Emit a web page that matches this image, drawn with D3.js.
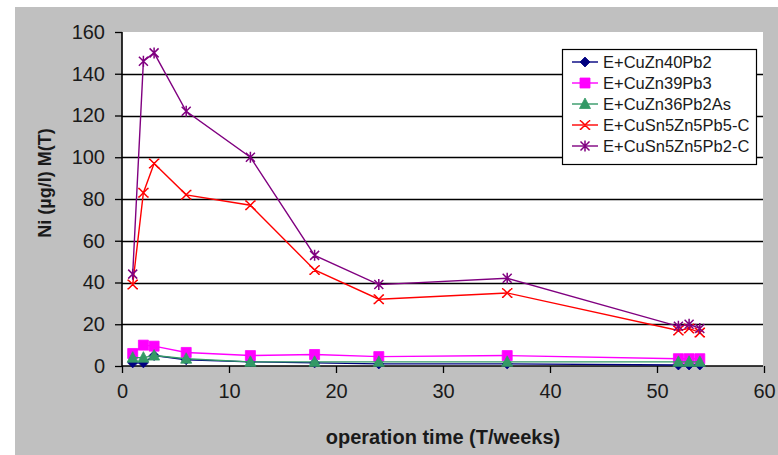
<!DOCTYPE html>
<html>
<head>
<meta charset="utf-8">
<script src="https://cdn.jsdelivr.net/npm/d3@7"></script>
<style>
  html, body { margin: 0; padding: 0; background: #fff; }
  svg { display: block; font-family: Arial, "Liberation Sans", sans-serif; }
</style>
</head>
<body>
<svg id="chart" width="778" height="455"></svg>
<script>
// Sampling times (weeks)
const weeks = [1, 2, 3, 6, 12, 18, 24, 36, 52, 53, 54];

// Ni release M(T) in µg/l per alloy
const cuZn40Pb2      = [1.5, 1.5, 5, 3, 2, 1.5, 1, 1, 0.5, 0.5, 0.5];
const cuZn39Pb3      = [6, 10, 9.5, 6.5, 5, 5.5, 4.5, 5, 3.5, 3.5, 3.5];
const cuZn36Pb2As    = [4, 4, 5, 3.5, 2, 2, 2, 2, 2, 2, 2];
const cuSn5Zn5Pb5C   = [39, 83, 97, 82, 77, 46, 32, 35, 17, 18, 16];
const cuSn5Zn5Pb2C   = [44, 146, 150, 122, 100, 53, 39, 42, 19, 20, 18];

const seriesNames = ["E+CuZn40Pb2", "E+CuZn39Pb3", "E+CuZn36Pb2As", "E+CuSn5Zn5Pb5-C", "E+CuSn5Zn5Pb2-C"];
const seriesValues = [cuZn40Pb2, cuZn39Pb3, cuZn36Pb2As, cuSn5Zn5Pb5C, cuSn5Zn5Pb2C];
const seriesColors = ["#000080", "#ff00ff", "#339966", "#ff0000", "#800080"];
const seriesMarkers = ["diamond", "square", "triangle", "x", "star"];

const xTicks = [0, 10, 20, 30, 40, 50, 60];
const yTicks = [0, 20, 40, 60, 80, 100, 120, 140, 160];

const svg = d3.select("#chart");

// chart area background
svg.append("rect").attr("x", 15).attr("y", 7).attr("width", 763).attr("height", 448)
  .attr("fill", "#c0c0c0");

const plot = { left: 122, right: 763, top: 32, bottom: 366 };

const x = d3.scaleLinear().domain([0, 60]).range([plot.left, 764]);
const y = d3.scaleLinear().domain([0, 160]).range([plot.bottom, plot.top]);

// plot area
svg.append("rect").attr("x", plot.left).attr("y", plot.top)
  .attr("width", plot.right - plot.left).attr("height", plot.bottom - plot.top)
  .attr("fill", "#fff");

// horizontal gridlines
svg.append("g").selectAll("line").data(yTicks.filter(v => v > 0 && v < 160)).join("line")
  .attr("x1", plot.left).attr("x2", plot.right)
  .attr("y1", d => Math.round(y(d)) + 0.5).attr("y2", d => Math.round(y(d)) + 0.5)
  .attr("stroke", "#000").attr("stroke-width", 1.6);

// axes
const yAxis = d3.axisLeft(y).tickValues(yTicks).tickSize(7).tickPadding(10).tickFormat(d3.format("d"));
const xAxis = d3.axisBottom(x).tickValues(xTicks).tickSize(7).tickPadding(11).tickFormat(d3.format("d"));

const gy = svg.append("g").attr("transform", `translate(${plot.left},0)`).call(yAxis);
const gx = svg.append("g").attr("transform", `translate(0,${plot.bottom})`).call(xAxis);
[gy, gx].forEach(g => {
  g.select(".domain").attr("stroke", "#000").attr("stroke-width", 1.6);
  g.selectAll(".tick line").attr("stroke", "#000").attr("stroke-width", 1.3);
  g.selectAll(".tick text").attr("fill", "#1a1a1a")
    .style("font-size", "20px").style("font-family", "Arial, 'Liberation Sans', sans-serif");
});
gy.select(".domain").attr("d", `M0,${plot.top}V${plot.bottom}`);
gx.select(".domain").attr("d", `M${plot.left},0H${plot.right}`);

// axis titles
svg.append("text")
  .attr("transform", `translate(51,183) rotate(-90)`)
  .attr("text-anchor", "middle")
  .style("font-size", "18px").style("font-weight", "bold").attr("fill", "#1a1a1a")
  .text("Ni (µg/l) M(T)");
svg.append("text")
  .attr("x", 443).attr("y", 444)
  .attr("text-anchor", "middle")
  .style("font-size", "20px").style("font-weight", "bold").attr("fill", "#1a1a1a")
  .text("operation time (T/weeks)");

// marker shapes
function markerPath(type) {
  switch (type) {
    case "diamond": return "M0,-5L5,0L0,5L-5,0Z";
    case "square": return "M-5,-5H5V5H-5Z";
    case "triangle": return "M0,-6L5.5,4.5L-5.5,4.5Z";
    case "x": return "M-4.5,-4.5L4.5,4.5M-4.5,4.5L4.5,-4.5M-4.5,-5V-3.5M4.5,-5V-3.5M-4.5,3.5V5M4.5,3.5V5";
    case "star": return "M-4.5,-4.5L4.5,4.5M-4.5,4.5L4.5,-4.5M0,-5.5V5.5";
  }
}
function drawMarker(g, type, color) {
  const filled = type === "diamond" || type === "square" || type === "triangle";
  g.append("path").attr("d", markerPath(type))
    .attr("fill", filled ? color : "none")
    .attr("stroke", color)
    .attr("stroke-width", filled ? 0.8 : 1.5);
}

const line = d3.line().x(d => x(d[0])).y(d => y(d[1]));

seriesValues.forEach((vals, i) => {
  const pts = weeks.map((w, j) => [w, vals[j]]);
  const g = svg.append("g");
  g.append("path").datum(pts).attr("d", line)
    .attr("fill", "none").attr("stroke", seriesColors[i]).attr("stroke-width", 1.4);
  g.selectAll("g.pt").data(pts).join("g").attr("class", "pt")
    .attr("transform", d => `translate(${x(d[0])},${y(d[1])})`)
    .each(function () { drawMarker(d3.select(this), seriesMarkers[i], seriesColors[i]); });
});

// legend
const legend = svg.append("g");
legend.append("rect").attr("x", 562.5).attr("y", 49.5).attr("width", 194).attr("height", 115)
  .attr("fill", "#fff").attr("stroke", "#000").attr("stroke-width", 1.2);
seriesNames.forEach((name, i) => {
  const yy = 62 + i * 21;
  const row = legend.append("g");
  row.append("line").attr("x1", 572).attr("x2", 598).attr("y1", yy).attr("y2", yy)
    .attr("stroke", seriesColors[i]).attr("stroke-width", 1.4);
  const m = row.append("g").attr("transform", `translate(585,${yy})`);
  drawMarker(m, seriesMarkers[i], seriesColors[i]);
  row.append("text").attr("x", 603).attr("y", yy).attr("dy", "0.36em")
    .style("font-size", "16.5px").attr("fill", "#1a1a1a").text(name);
});
</script>
</body>
</html>
